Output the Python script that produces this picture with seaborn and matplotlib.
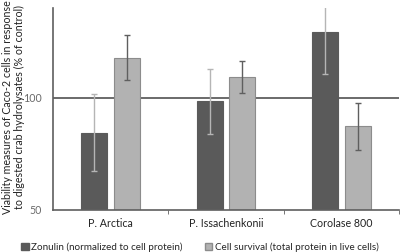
import pandas as pd
import seaborn as sns
import matplotlib.pyplot as plt

categories = ["P. Arctica", "P. Issachenkonii", "Corolase 800"]
series = ["Zonulin (normalized to cell protein)", "Cell survival (total protein in live cells)"]
zonulin = [84.5, 98.5, 129.2]
zonulin_err = [17.2, 14.5, 18.5]
survival = [117.9, 109.2, 87.2]
survival_err = [9.9, 7.0, 10.3]

df = pd.DataFrame({
    "category": categories * 2,
    "series": [series[0]] * 3 + [series[1]] * 3,
    "value": zonulin + survival,
})

sns.set_style("white")
plt.rcParams["font.family"] = ["Lato", "DejaVu Sans"]

fig = plt.figure(figsize=(4, 2.52), dpi=100)
ax = fig.add_axes([0.1325, 0.167, 0.865, 0.801])

ax.axhline(100, color="#5f5f5f", lw=1.3, zorder=0)
sns.barplot(data=df, x="category", y="value", hue="series", order=categories,
            hue_order=series, palette=["#5a5a5a", "#b2b2b2"], width=0.57, gap=0.21,
            errorbar=None, ax=ax, zorder=2, linewidth=0.8)
for bar in ax.containers[0]:
    bar.set_edgecolor("#5a5a5a")
for bar in ax.containers[1]:
    bar.set_edgecolor("#8c8c8c")

errs = [(zonulin, zonulin_err, "#b5b5b5"), (survival, survival_err, "#5f5f5f")]
for cont, (vals, err, col) in zip(ax.containers, errs):
    xs = [b.get_x() + b.get_width() / 2 for b in cont]
    ax.errorbar(xs, vals, yerr=err, fmt="none", ecolor=col, elinewidth=1.0,
                capsize=2.5, capthick=1.0, zorder=3)

ax.set_ylim(50, 140)
ax.set_xlim(-0.5, 2.5)
ax.set_yticks([50, 100])
ax.set_xticks([0.5, 1.5, 2.5], minor=True)
ax.tick_params(axis="x", which="minor", length=3, color="#5f5f5f", direction="out", bottom=True)
ax.tick_params(axis="x", which="major", length=0, labelsize=7.7, labelcolor="#222222", pad=6)
ax.tick_params(axis="y", length=0, labelsize=7.7, labelcolor="#6a6a6a", pad=8)
sns.despine(ax=ax)
for s in ["left", "bottom"]:
    ax.spines[s].set_color("#5f5f5f")
    ax.spines[s].set_linewidth(1.2)

ax.set_xlabel("")
ax.set_ylabel("Viability measures of Caco-2 cells in response\nto digested crab hydrolysates (% of control)",
              fontsize=7.7, color="#222222", linespacing=1.1)
ax.yaxis.set_label_coords(-0.082, 0.51)
ax.get_legend().remove()
handles = [plt.Rectangle((0, 0), 1, 1, fc="#5a5a5a", ec="#5a5a5a"),
           plt.Rectangle((0, 0), 1, 1, fc="#b2b2b2", ec="#8c8c8c")]
fig.legend(handles, series, loc="center", bbox_to_anchor=(0.5, 0.02), ncol=2, frameon=False,
           fontsize=7.1, handlelength=0.75, handleheight=0.75, handletextpad=0.3, columnspacing=2.2,
           borderaxespad=0)

fig.savefig("out.png", dpi=100)
